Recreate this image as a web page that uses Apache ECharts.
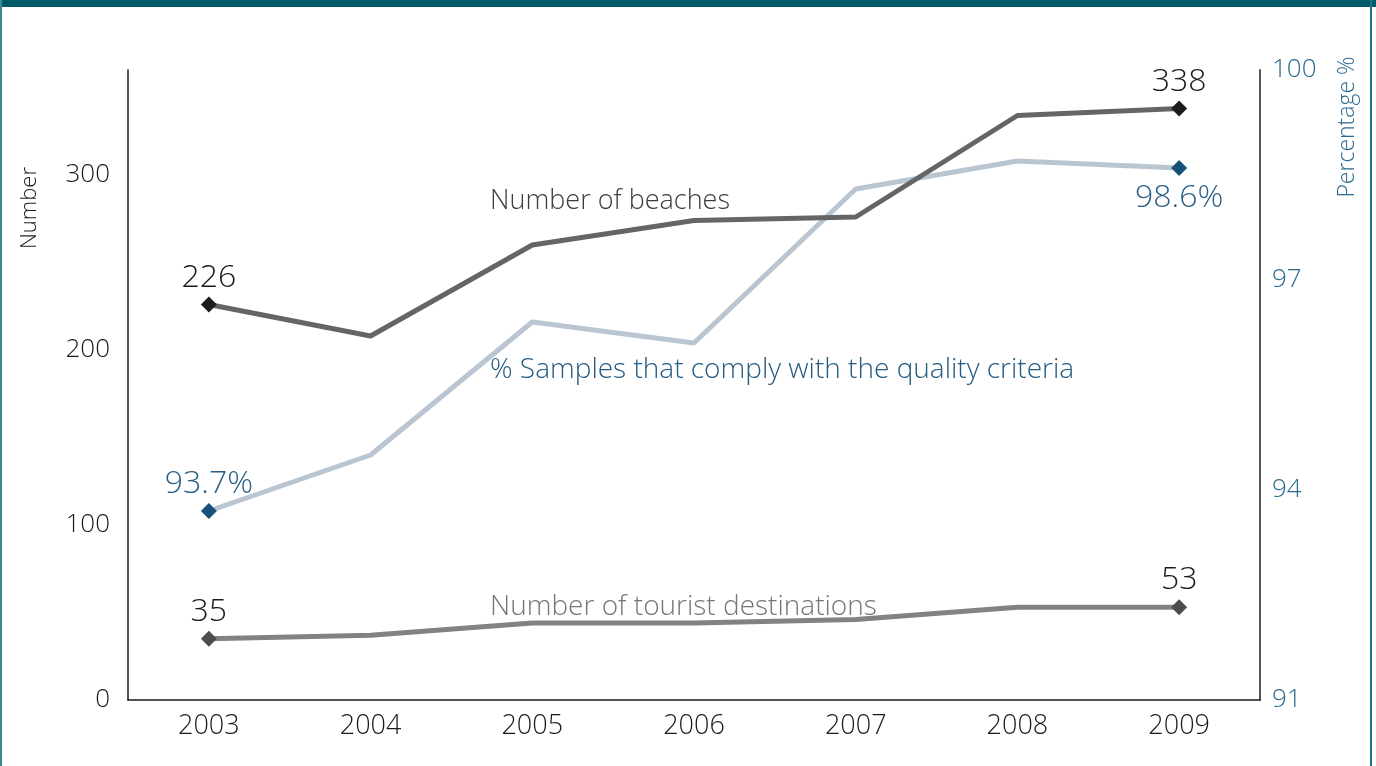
<!DOCTYPE html>
<html>
<head>
<meta charset="utf-8">
<title>Beaches and bathing water quality</title>
<script src="https://cdn.jsdelivr.net/npm/echarts@6/dist/echarts.min.js"></script>
<style>
  html, body { margin: 0; padding: 0; background: #fff; }
  #chart { width: 1376px; height: 766px; }
</style>
</head>
<body>
<div id="chart"></div>
<script>
// Years on the category axis
const years = ['2003', '2004', '2005', '2006', '2007', '2008', '2009'];
// Number of beaches (left axis)
const beaches = [226, 208, 260, 274, 276, 334, 338];
// Number of tourist destinations (left axis)
const destinations = [35, 37, 44, 44, 46, 53, 53];
// % samples that comply with the quality criteria (right axis)
const compliance = [93.7, 94.5, 96.4, 96.1, 98.3, 98.7, 98.6];
// Tick labels
const leftTicks = [0, 100, 200, 300];
const rightTicks = [91, 94, 97, 100];

const FONT = "'Open Sans', 'Noto Sans', sans-serif";
const last = years.length - 1;
const endsOnly = (v, p) => (p.dataIndex === 0 || p.dataIndex === last) ? 'diamond' : 'none';
const endLabel = suffix => p => (p.dataIndex === 0 || p.dataIndex === last) ? p.value + suffix : '';

const chart = echarts.init(document.getElementById('chart'), null, { renderer: 'canvas' });

chart.setOption({
  animation: false,
  backgroundColor: '#ffffff',
  textStyle: { fontFamily: FONT },
  grid: { left: 128, right: 116, top: 70, bottom: 66, containLabel: false },
  xAxis: {
    type: 'category',
    data: years,
    boundaryGap: true,
    axisLine: { lineStyle: { color: '#1a1a1a', width: 1.5 } },
    axisTick: { show: false },
    axisLabel: { color: '#1a1a1a', fontSize: 27, fontWeight: 300, margin: 13, fontFamily: FONT }
  },
  yAxis: [
    {
      type: 'value',
      min: 0,
      max: 360,
      axisLine: { show: true, lineStyle: { color: '#1a1a1a', width: 1.5 } },
      axisTick: { show: false },
      splitLine: { show: false },
      axisLabel: { customValues: leftTicks, color: '#1a1a1a', fontSize: 26, fontWeight: 300, margin: 18, fontFamily: FONT }
    },
    {
      type: 'value',
      min: 91,
      max: 100,
      position: 'right',
      axisLine: { show: true, lineStyle: { color: '#555555', width: 2 } },
      axisTick: { show: false },
      splitLine: { show: false },
      axisLabel: { customValues: rightTicks, color: '#2d6a8e', fontSize: 26, fontWeight: 300, margin: 12, fontFamily: FONT }
    }
  ],
  series: [
    {
      name: 'Number of beaches',
      type: 'line',
      yAxisIndex: 0,
      data: beaches,
      symbol: endsOnly,
      symbolSize: 16,
      showAllSymbol: true,
      lineStyle: { color: '#656565', width: 5 },
      itemStyle: { color: '#1c1c1c' },
      label: { show: true, position: 'top', distance: 3, formatter: endLabel(''), color: '#1a1a1a', fontSize: 32, fontWeight: 300, fontFamily: FONT },
      z: 3
    },
    {
      name: 'Number of tourist destinations',
      type: 'line',
      yAxisIndex: 0,
      data: destinations,
      symbol: endsOnly,
      symbolSize: 16,
      showAllSymbol: true,
      lineStyle: { color: '#828282', width: 5 },
      itemStyle: { color: '#4d4d4d' },
      label: { show: true, position: 'top', distance: 3, formatter: endLabel(''), color: '#1a1a1a', fontSize: 32, fontWeight: 300, fontFamily: FONT },
      z: 3
    },
    {
      name: '% Samples that comply with the quality criteria',
      type: 'line',
      yAxisIndex: 1,
      data: compliance.map((v, i) => i === last ? { value: v, label: { position: 'bottom', distance: 6 } } : v),
      symbol: endsOnly,
      symbolSize: 16,
      showAllSymbol: true,
      lineStyle: { color: '#b9c6d2', width: 5 },
      itemStyle: { color: '#17527c' },
      label: { show: true, position: 'top', distance: 3, formatter: endLabel('%'), color: '#2a5f86', fontSize: 32, fontWeight: 300, fontFamily: FONT },
      z: 2
    }
  ],
  graphic: [
    // header band and frame
    { type: 'rect', shape: { x: 0, y: 0, width: 1376, height: 7 }, style: { fill: '#005a6a' }, z: 10 },
    { type: 'line', shape: { x1: 1, y1: 0, x2: 1, y2: 766 }, style: { stroke: '#3f8796', lineWidth: 2 }, z: 10 },
    { type: 'line', shape: { x1: 1371, y1: 0, x2: 1371, y2: 766 }, style: { stroke: '#1f7484', lineWidth: 2 }, z: 10 },
    // axis names
    { type: 'text', x: 30, y: 208, rotation: Math.PI / 2,
      style: { text: 'Number', fill: '#1a1a1a', font: '300 22px ' + FONT, textAlign: 'center', textVerticalAlign: 'middle' } },
    { type: 'text', x: 1347, y: 127, rotation: Math.PI / 2,
      style: { text: 'Percentage %', fill: '#2d6a8e', font: '300 23px ' + FONT, textAlign: 'center', textVerticalAlign: 'middle' } },
    // series captions
    { type: 'text', x: 490, y: 201,
      style: { text: 'Number of beaches', fill: '#3c3c3c', font: '300 27px ' + FONT, textAlign: 'left', textVerticalAlign: 'middle' } },
    { type: 'text', x: 490, y: 370,
      style: { text: '% Samples that comply with the quality criteria', fill: '#245c82', font: '300 28px ' + FONT, textAlign: 'left', textVerticalAlign: 'middle' } },
    { type: 'text', x: 490, y: 607,
      style: { text: 'Number of tourist destinations', fill: '#767676', font: '300 28px ' + FONT, textAlign: 'left', textVerticalAlign: 'middle' } }
  ]
});
</script>
</body>
</html>
